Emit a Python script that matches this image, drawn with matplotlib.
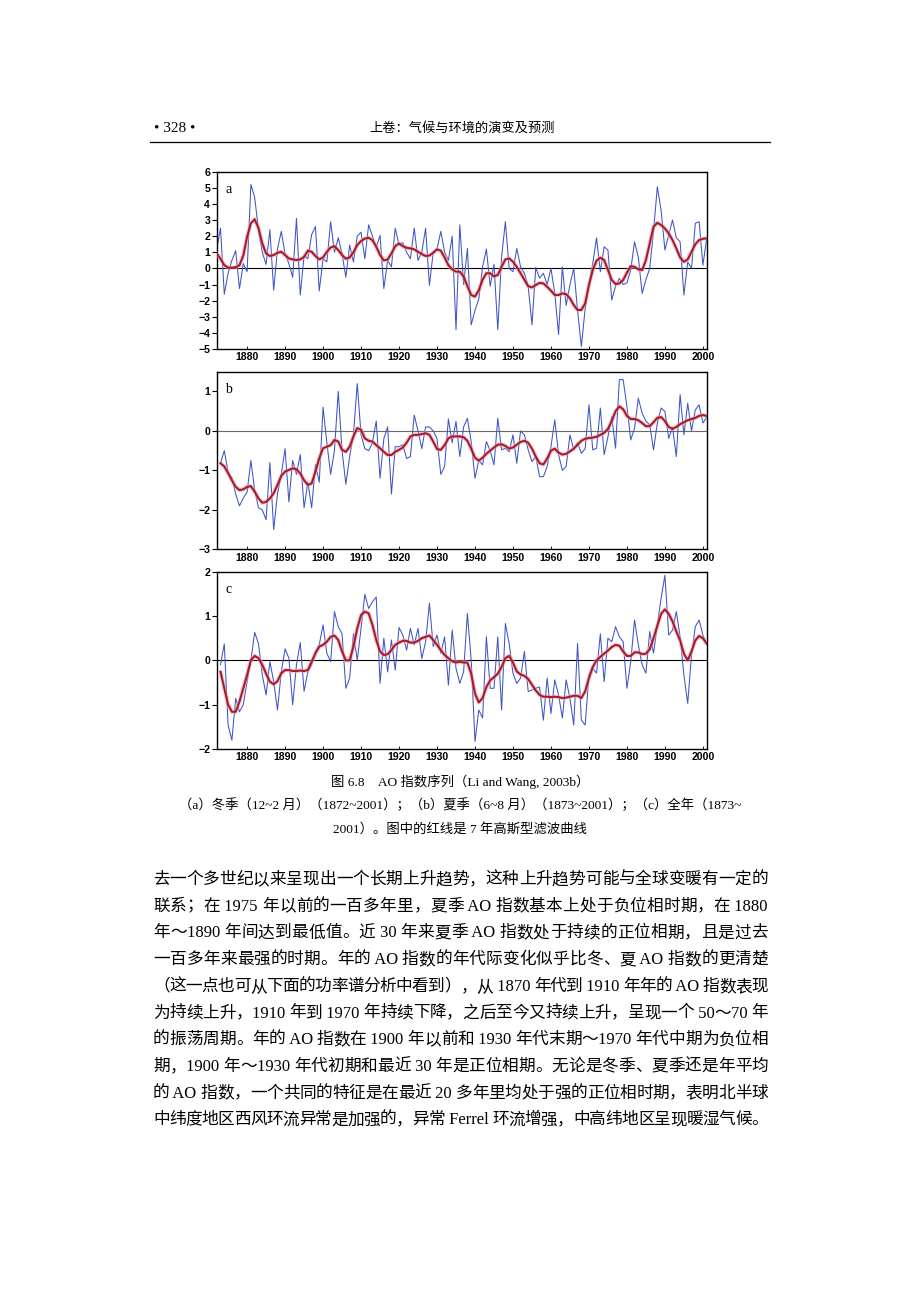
import numpy as np
import matplotlib
matplotlib.use("Agg")
import matplotlib.pyplot as plt
from matplotlib.lines import Line2D

# ---------------- data ----------------
years_winter = np.arange(1872, 2002)
years_other = np.arange(1873, 2002)

winter_ao = [
    1.2, 2.5, -1.6, -0.3, 0.5, 1.1, -1.25, 0.3, -0.2, 5.2,
    4.4, 2.4, 1.0, 0.25, 2.4, -1.35, 1.2, 2.3, 0.9, 0.3,
    -0.55, 3.1, -1.65, 0.8, 0.6, 2.1, 2.6, -1.4, 0.6, 0.4,
    2.9, 1.0, 1.9, 0.9, -0.55, 1.45, 0.4, 2.0, 2.25, 0.6,
    2.7, 2.0, 1.3, 2.05, -1.25, 0.5, 0.1, 2.5, 1.45, 1.6,
    1.0, 0.6, 2.5, 0.5, 1.0, 2.5, -1.05, 1.0, 1.2, 2.3,
    1.0, 0.5, 2.0, -3.8, 2.7, -1.0, 1.24, -3.5, -2.6, -1.9,
    0.1, 1.2, -1.1, 0.25, -3.8, 0.7, 2.9, 0.0, -0.2, 1.24,
    0.1, -0.3, -1.1, -3.5, 0.05, -0.6, -0.3, -1.0, 0.0, -1.55,
    -4.1, 0.1, -2.3, -1.0, 0.0, -2.6, -4.85, -2.5, -1.0, 0.3,
    1.9, -0.2, 1.34, 1.14, -1.96, -1.1, -0.62, -1.0, -0.9, -0.1,
    1.65, 0.7, -1.55, -0.7, 0.0, 2.3, 5.06, 3.6, 1.14, 2.07,
    3.0, 1.9, 1.65, -1.65, 0.4, 0.0, 2.8, 2.9, 0.2, 1.86,
]
winter_filtered = [
    0.93, 0.6, 0.2, 0.05, 0.05, 0.07, 0.2, 0.8, 1.96, 2.8,
    3.05, 2.5, 1.55, 0.93, 0.77, 0.83, 0.97, 1.03, 0.83, 0.62,
    0.56, 0.52, 0.56, 0.72, 1.1, 1.03, 0.77, 0.56, 0.68, 1.03,
    1.3, 1.38, 1.14, 0.83, 0.6, 0.68, 1.0, 1.45, 1.7, 1.85,
    1.9, 1.75, 1.35, 0.83, 0.5, 0.55, 0.93, 1.38, 1.55, 1.38,
    1.28, 1.24, 1.18, 1.03, 0.89, 0.77, 0.8, 0.97, 1.18, 1.1,
    0.68, 0.2, -0.06, -0.2, -0.2, -0.5, -1.1, -1.65, -1.75, -1.35,
    -0.7, -0.3, -0.3, -0.5, -0.4, 0.1, 0.56, 0.62, 0.41, 0.1,
    -0.3, -0.7, -1.1, -1.18, -1.03, -0.9, -0.93, -1.14, -1.38, -1.65,
    -1.65, -1.55, -1.6, -1.86, -2.27, -2.58, -2.58, -2.17, -1.03, -0.1,
    0.48, 0.66, 0.52, -0.1, -0.72, -0.97, -0.93, -0.72, -0.27, 0.14,
    0.1, -0.06, -0.1, 0.52, 1.55, 2.58, 2.83, 2.69, 2.48, 2.17,
    1.76, 1.24, 0.68, 0.41, 0.56, 1.03, 1.5, 1.76, 1.84, 1.86,
]

summer_ao = [
    -0.82, -0.5, -1.05, -1.2, -1.6, -1.9, -1.7, -1.55, -0.75, -1.5,
    -1.95, -2.0, -2.25, -0.8, -2.5, -1.6, -1.1, -0.45, -1.8, -0.75,
    -1.1, -0.6, -1.95, -1.3, -1.95, -0.85, -1.3, 0.6, -0.3, -1.1,
    -0.5, 1.0, -0.5, -1.35, -0.65, -0.1, 1.2, -0.1, -0.45, -0.5,
    -0.3, 0.25, -1.2, -0.2, 0.1, -1.6, -0.4, -0.4, -0.35, -0.7,
    -0.65, 0.4, 0.0, -0.45, 0.1, 0.1, 0.0, -0.2, -1.1, -0.9,
    0.3, -0.3, 0.24, -0.65, 0.1, 0.32, -0.27, -1.2, -0.75, -0.86,
    -0.27, -0.5, -0.86, 0.32, -0.48, -0.44, -0.53, -0.1, -0.82, 0.0,
    -0.1, -0.48, -0.78, -0.65, -1.16, -1.16, -0.9, -0.4, 0.28, -0.6,
    -1.0, -0.9, -0.1, -0.48, -0.3, -0.57, -0.45, 0.66, -0.48, -0.44,
    0.58, -0.6, -0.15, 0.36, -0.44, 1.3, 1.3, 0.62, -0.23, 0.07,
    0.83, 0.45, 0.25, 0.15, -0.48, 0.2, 0.58, 0.49, -0.19, 0.1,
    -0.65, 0.92, -0.1, 0.7, 0.0, 0.53, 0.66, 0.2, 0.35,
]
summer_filtered = [
    -0.82, -0.9, -1.07, -1.25, -1.42, -1.5, -1.48, -1.42, -1.4, -1.54,
    -1.71, -1.82, -1.8, -1.71, -1.58, -1.37, -1.14, -1.03, -0.99, -0.95,
    -0.97, -1.08, -1.25, -1.37, -1.33, -1.03, -0.69, -0.44, -0.4, -0.36,
    -0.23, -0.27, -0.48, -0.53, -0.4, -0.14, 0.07, 0.03, -0.19, -0.25,
    -0.27, -0.36, -0.44, -0.53, -0.61, -0.61, -0.53, -0.48, -0.42, -0.3,
    -0.14, -0.1, -0.1, -0.08, -0.06, -0.1, -0.27, -0.46, -0.48, -0.36,
    -0.19, -0.14, -0.14, -0.14, -0.16, -0.25, -0.45, -0.68, -0.75, -0.68,
    -0.58, -0.5, -0.42, -0.35, -0.34, -0.38, -0.45, -0.42, -0.35, -0.28,
    -0.25, -0.3, -0.45, -0.65, -0.82, -0.85, -0.7, -0.5, -0.45, -0.55,
    -0.6, -0.58, -0.52, -0.45, -0.35, -0.25, -0.2, -0.18, -0.17, -0.15,
    -0.1, -0.05, 0.05, 0.25, 0.5, 0.62, 0.55, 0.38, 0.3, 0.3,
    0.27, 0.2, 0.12, 0.12, 0.22, 0.33, 0.35, 0.25, 0.1, 0.05,
    0.1, 0.17, 0.22, 0.27, 0.3, 0.33, 0.38, 0.4, 0.38,
]

annual_ao = [
    -0.1, 0.37, -1.46, -1.8, -0.86, -1.16, -1.0, -0.48, 0.0, 0.63,
    0.38, -0.33, -0.78, -0.03, -0.48, -1.12, -0.26, 0.26, 0.05, -1.0,
    -0.1, 0.4, -0.7, -0.26, -0.1, 0.2, 0.35, 0.8, 0.16, -0.03,
    1.1, 0.76, 0.6, -0.63, -0.4, 0.6, 0.0, 0.72, 1.49, 1.17,
    1.32, 1.43, -0.52, 0.5, -0.26, 0.46, -0.22, 0.74, 0.57, 0.23,
    0.72, 0.35, 0.72, 0.04, 0.42, 1.29, 0.31, 0.57, 0.16, 0.53,
    -0.56, 0.68, -0.18, -0.52, -0.26, 1.06, 0.0, -1.83, -1.12, -1.3,
    0.53, -0.63, -0.63, 0.53, -1.12, 0.83, 0.38, -0.29, -0.52, -0.4,
    0.2, -0.7, -0.67, -0.63, -0.6, -1.35, -0.4, -1.2, -0.44, -0.78,
    -1.3, -0.44, -0.86, -1.46, 0.38, -1.35, -1.46, -0.33, -0.18, -0.29,
    0.6, -0.48, 0.5, 0.42, 0.76, 0.53, 0.42, -0.63, -0.03, 0.91,
    0.35, -0.1, -0.29, 0.65, 0.16, 0.8, 1.4, 1.92, 0.57, 0.68,
    1.1, 0.53, -0.33, -0.97, 0.12, 0.76, 0.91, 0.57, 0.35,
]
annual_filtered = [
    -0.26, -0.63, -1.0, -1.16, -1.16, -0.93, -0.63, -0.33, 0.0, 0.1,
    0.05, -0.1, -0.3, -0.48, -0.54, -0.47, -0.29, -0.22, -0.22, -0.24,
    -0.24, -0.23, -0.24, -0.22, -0.03, 0.16, 0.31, 0.35, 0.42, 0.53,
    0.56, 0.46, 0.2, 0.0, 0.0, 0.31, 0.72, 1.02, 1.1, 1.06,
    0.8, 0.46, 0.2, 0.12, 0.14, 0.23, 0.35, 0.4, 0.44, 0.44,
    0.4, 0.4, 0.44, 0.5, 0.53, 0.56, 0.46, 0.35, 0.23, 0.12,
    0.05, -0.02, -0.05, -0.03, -0.05, -0.05, -0.3, -0.75, -0.95, -0.85,
    -0.6, -0.45, -0.38, -0.3, -0.15, 0.05, 0.1, -0.05, -0.25, -0.32,
    -0.35, -0.42, -0.55, -0.68, -0.78, -0.82, -0.82, -0.83, -0.82, -0.83,
    -0.85, -0.84, -0.82, -0.8, -0.8, -0.85, -0.7, -0.4, -0.15, 0.0,
    0.08, 0.15, 0.22, 0.3, 0.35, 0.33, 0.2, 0.1, 0.1, 0.18,
    0.18, 0.14, 0.15, 0.25, 0.5, 0.78, 1.05, 1.15, 1.05, 0.88,
    0.65, 0.45, 0.15, 0.0, 0.2, 0.45, 0.55, 0.5, 0.38,
]

panel_labels = ["a", "b", "c"]
x_ticks = [1880, 1890, 1900, 1910, 1920, 1930, 1940, 1950, 1960, 1970, 1980, 1990, 2000]
y_ticks_a = [-5, -4, -3, -2, -1, 0, 1, 2, 3, 4, 5, 6]
y_ticks_b = [-3, -2, -1, 0, 1]
y_ticks_c = [-2, -1, 0, 1, 2]

header_page = "• 328 •"
header_title = "上卷：气候与环境的演变及预测"
caption_lines = [
    "图 6.8　AO 指数序列（Li and Wang, 2003b）",
    "（a）冬季（12~2 月）（1872~2001）；（b）夏季（6~8 月）（1873~2001）；（c）全年（1873~",
    "2001）。图中的红线是 7 年高斯型滤波曲线",
]
body_lines = [
    "去一个多世纪以来呈现出一个长期上升趋势，这种上升趋势可能与全球变暖有一定的",
    "联系；在 1975 年以前的一百多年里，夏季 AO 指数基本上处于负位相时期，在 1880",
    "年～1890 年间达到最低值。近 30 年来夏季 AO 指数处于持续的正位相期，且是过去",
    "一百多年来最强的时期。年的 AO 指数的年代际变化似乎比冬、夏 AO 指数的更清楚",
    "（这一点也可从下面的功率谱分析中看到），从 1870 年代到 1910 年年的 AO 指数表现",
    "为持续上升，1910 年到 1970 年持续下降，之后至今又持续上升，呈现一个 50～70 年",
    "的振荡周期。年的 AO 指数在 1900 年以前和 1930 年代末期～1970 年代中期为负位相",
    "期，1900 年～1930 年代初期和最近 30 年是正位相期。无论是冬季、夏季还是年平均",
    "的 AO 指数，一个共同的特征是在最近 20 多年里均处于强的正位相时期，表明北半球",
    "中纬度地区西风环流异常是加强的，异常 Ferrel 环流增强，中高纬地区呈现暖湿气候。",
]

# ---------------- style ----------------
W, H = 920, 1302
BLUE = "#3d55c6"
RED = "#a51c2c"
PINK = "#f0a8b2"
TEXT_FONT = ["Liberation Serif", "Noto Sans CJK SC"]
TICK_FONT = dict(family="Liberation Sans", weight="bold", size=7.6)

fig = plt.figure(figsize=(W / 100, H / 100), dpi=100)


def fx(px):
    return px / W


def fy(py):
    return 1 - py / H


panels = [
    (years_winter, winter_ao, winter_filtered, (-5, 6), y_ticks_a, 171.7, 349.0, "black"),
    (years_other, summer_ao, summer_filtered, (-3, 1.5), y_ticks_b, 371.7, 549.3, "#6a6a6a"),
    (years_other, annual_ao, annual_filtered, (-2, 2), y_ticks_c, 571.7, 749.0, "black"),
]

left_px, right_px = 216.7, 706.7
for (yrs, raw, filt, ylim, yt, top, bot, zcol), lab in zip(panels, panel_labels):
    ax = fig.add_axes([fx(left_px), fy(bot), (right_px - left_px) / W, (bot - top) / H])
    ax.axhline(0, color=zcol, lw=0.8, zorder=1)
    ax.plot(yrs, raw, color=BLUE, lw=0.75, zorder=2)
    ax.plot(yrs, filt, color=PINK, lw=3.2, alpha=0.55, zorder=3, solid_capstyle="round")
    ax.plot(yrs, filt, color=RED, lw=1.5, zorder=4)
    ax.set_xlim(1872, 2001)
    ax.set_ylim(*ylim)
    ax.set_xticks(x_ticks)
    ax.set_yticks(yt)
    ax.set_xticklabels([str(v) for v in x_ticks], **TICK_FONT)
    ax.set_yticklabels([str(v).replace("-", "\u2212") for v in yt], **TICK_FONT)
    ax.tick_params(axis="x", direction="in", length=2, width=0.6, pad=2.5)
    ax.tick_params(axis="y", direction="out", length=3.5, width=0.8, pad=1.2)
    for s in ax.spines.values():
        s.set_linewidth(1.0)
    ax.text(0.017, 0.90, lab, transform=ax.transAxes, ha="left", va="center",
            family="Liberation Serif", fontsize=10)

# ---------------- header ----------------
fig.text(fx(154), fy(128), header_page, family=TEXT_FONT, fontsize=11, ha="left", va="center")
fig.text(fx(462), fy(128), header_title, family=TEXT_FONT, fontsize=9.5, ha="center", va="center")
fig.add_artist(Line2D([fx(150), fx(770)], [fy(142), fy(142)], color="black", lw=0.9))

# ---------------- caption ----------------
cap_y = [782, 805, 829]
for txt, yy in zip(caption_lines, cap_y):
    fig.text(fx(460), fy(yy), txt, family=TEXT_FONT, fontsize=9.6, ha="center", va="center")

# ---------------- body (justified) ----------------
renderer = fig.canvas.get_renderer()


def tokenize(line):
    toks, buf = [], ""
    for ch in line:
        if ord(ch) < 128:
            buf += ch
        else:
            if buf:
                toks.append(buf)
                buf = ""
            toks.append(ch)
    if buf:
        toks.append(buf)
    return toks


body_left, body_right = 153, 768
body_y0, body_dy = 880, 26.7
for i, line in enumerate(body_lines):
    yy = fy(body_y0 + i * body_dy)
    toks = tokenize(line)
    arts, widths = [], []
    for t in toks:
        a = fig.text(0, yy, t, family=TEXT_FONT, fontsize=12, ha="left", va="center")
        bb = a.get_window_extent(renderer)
        arts.append(a)
        widths.append(bb.width)
    total = sum(widths)
    gap = (body_right - body_left - total) / max(len(toks) - 1, 1)
    x = body_left
    for a, w in zip(arts, widths):
        a.set_x(fx(x))
        x += w + gap

fig.savefig("out.png", dpi=100, facecolor="white")
